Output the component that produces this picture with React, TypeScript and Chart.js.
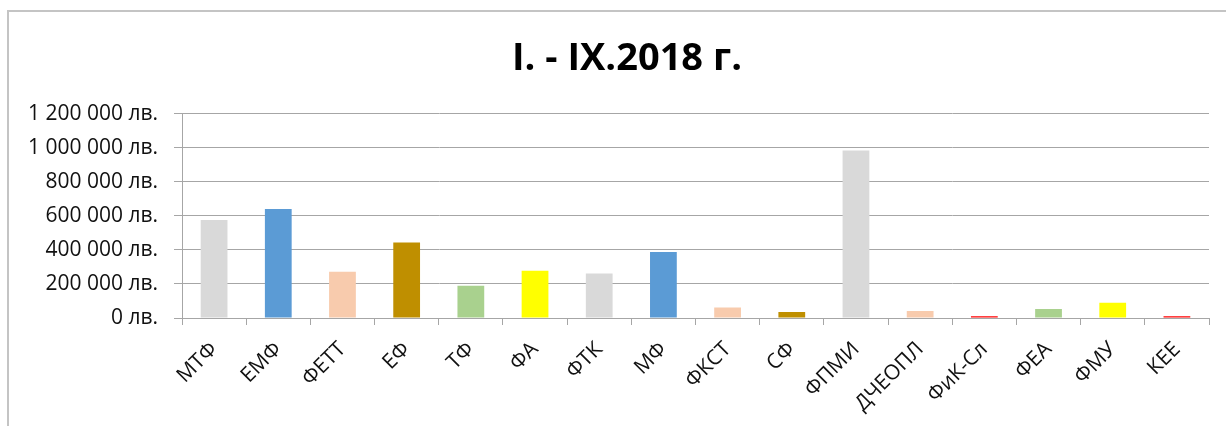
import React, { useEffect, useRef } from "react";
import { Chart, registerables } from "chart.js";

Chart.register(...registerables);

const categories = [
  "МТФ", "ЕМФ", "ФЕТТ", "ЕФ", "ТФ", "ФА", "ФТК", "МФ",
  "ФКСТ", "СФ", "ФПМИ", "ДЧЕОПЛ", "ФиК-Сл", "ФЕА", "ФМУ", "КЕЕ",
];
const values = [
  576000, 640000, 272000, 443000, 190000, 278000, 261000, 388000,
  61000, 35000, 984000, 41000, 10000, 53000, 90000, 10000,
];
const barColors = [
  "#D9D9D9", "#5B9BD5", "#F8CBAD", "#BF8F00", "#A9D18E", "#FFFF00", "#D9D9D9", "#5B9BD5",
  "#F8CBAD", "#BF8F00", "#D9D9D9", "#F8CBAD", "#FF0000", "#A9D18E", "#FFFF00", "#FF0000",
];
const titleText = "I. - IX.2018 г.";
const yMin = 0;
const yMax = 1200000;
const yStep = 200000;

const W = 1226;
const H = 426;

function fmt(v: number): string {
  return String(v).replace(/\B(?=(\d{3})+(?!\d))/g, " ") + " лв.";
}

const shiftTitle = {
  id: "shiftTitle",
  afterLayout(chart: any) {
    const t = chart.titleBlock;
    if (t) {
      t.left = 28;
      t.right = 1226;
    }
  },
};

export default function App() {
  const ref = useRef<HTMLCanvasElement | null>(null);

  useEffect(() => {
    document.body.style.margin = "0";
    const canvas = ref.current;
    if (!canvas) return;
    const chart = new Chart(canvas, {
      type: "bar",
      data: {
        labels: categories,
        datasets: [
          {
            data: values,
            backgroundColor: barColors,
            borderWidth: 0,
            barPercentage: 0.417,
            categoryPercentage: 1,
          },
        ],
      },
      plugins: [shiftTitle],
      options: {
        responsive: false,
        animation: false,
        devicePixelRatio: 1,
        layout: { padding: { left: 0, right: 17, top: 0, bottom: 0 } },
        plugins: {
          legend: { display: false },
          tooltip: { enabled: false },
          title: {
            display: true,
            text: titleText,
            color: "#000000",
            font: { family: "'Open Sans'", size: 38, weight: "bold" },
            padding: { top: 36, bottom: 32 },
          },
        },
        scales: {
          x: {
            grid: {
              display: true,
              drawOnChartArea: false,
              drawTicks: true,
              tickLength: 7,
              color: "#a6a6a6",
              offset: true,
            },
            border: { display: true, color: "#a6a6a6", width: 1 },
            ticks: {
              color: "#111111",
              font: { family: "'Open Sans'", size: 21 },
              maxRotation: 45,
              minRotation: 45,
              padding: 12,
              autoSkip: false,
            },
            afterFit: (scale: any) => {
              scale.height = 108;
            },
          },
          y: {
            min: yMin,
            max: yMax,
            grid: {
              color: "#a6a6a6",
              tickLength: 8,
              drawTicks: true,
            },
            border: { display: true, color: "#a6a6a6", width: 1 },
            ticks: {
              stepSize: yStep,
              color: "#111111",
              font: { family: "'Open Sans'", size: 21 },
              padding: 16,
              callback: (v: any) => fmt(Number(v)),
            },
            afterFit: (scale: any) => {
              scale.width = 182;
            },
          },
        },
      },
    });
    return () => chart.destroy();
  }, []);

  return (
    <div
      style={{
        position: "fixed",
        left: 0,
        top: 0,
        width: W,
        height: H,
        overflow: "hidden",
        background: "#ffffff",
      }}
    >
      <canvas
        ref={ref}
        width={W}
        height={H}
        style={{ position: "absolute", left: 0, top: 0, width: W, height: H }}
      />
      <div
        style={{
          position: "absolute",
          left: 7,
          top: 10,
          width: 1400,
          height: 600,
          border: "2px solid #c4c4c4",
          boxSizing: "border-box",
          pointerEvents: "none",
        }}
      />
    </div>
  );
}
